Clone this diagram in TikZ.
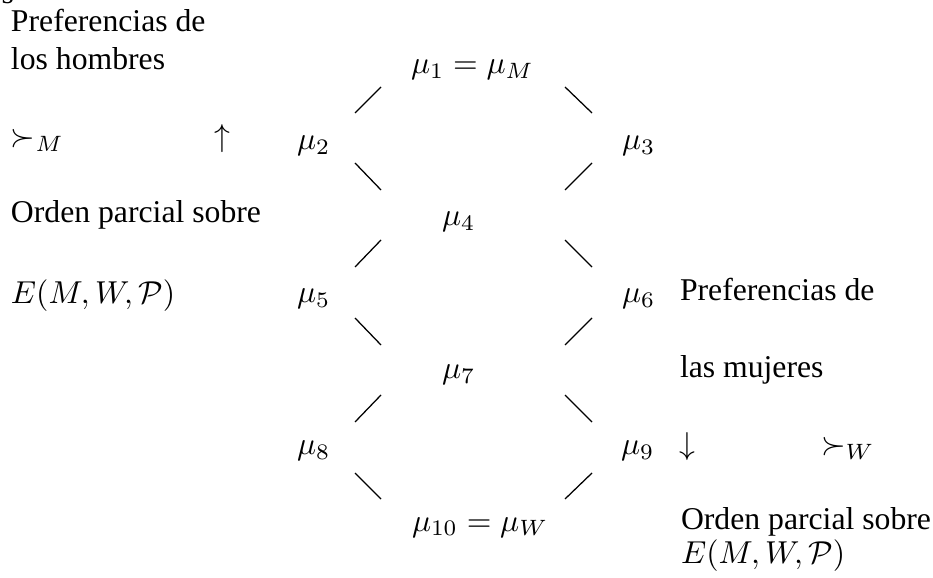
\documentclass[tikz,border=0pt]{standalone}
\usepackage[no-math]{fontspec}
\setmainfont{Liberation Serif}
\begin{document}
\begin{tikzpicture}[x=0.31546pt,y=-0.31546pt,
  txt/.style={inner sep=0pt, outer sep=0pt, anchor=base west},
  seg/.style={line width=0.4pt}]
\useasboundingbox (0,0) rectangle (933,578);
% clipped fragment at the top edge
\node[txt,anchor=base east] (frag) at (14,4) {es};
% left labels
\node[txt] (pm1) at (11,32) {Preferencias de};
\node[txt] (pm2) at (11,70) {los hombres};
\node[txt] (sm) at (11,147) {$\succ_M$};
\node[inner sep=0pt,anchor=base] (up) at (222,147) {$\uparrow$};
\node[txt] (om1) at (11,223) {Orden parcial sobre};
\node[txt] (om2) at (11,304) {$E(M,W,\mathcal{P})$};
% lattice
\node[txt] (m1) at (411,74) {$\mu_1=\mu_M$};
\node[txt] (m2) at (297,150) {$\mu_2$};
\node[txt] (m3) at (622,150) {$\mu_3$};
\node[txt] (m4) at (442,226) {$\mu_4$};
\node[txt] (m5) at (297,303) {$\mu_5$};
\node[txt] (m6) at (622,303) {$\mu_6$};
\node[txt] (m7) at (442,379) {$\mu_7$};
\node[txt] (m8) at (297,455) {$\mu_8$};
\node[txt] (m9) at (621,455) {$\mu_9$};
\node[txt] (m10) at (412,531) {$\mu_{10}=\mu_W$};
% right labels
\node[txt] (pw1) at (680,301) {Preferencias de};
\node[txt] (pw2) at (680,378) {las mujeres};
\node[txt] (down) at (679,455) {$\downarrow$};
\node[txt] (sw) at (821,455) {$\succ_W$};
\node[txt] (ow1) at (681,530) {Orden parcial sobre};
\node[txt] (ow2) at (681,563) {$E(M,W,\mathcal{P})$};
% segment end points
\foreach \i/\t/\b in {1/87/113,2/163/190,3/240/267,4/318/345,5/395/422,6/473/499}{
  \coordinate (ltl\i) at (355,\t); \coordinate (ltr\i) at (381,\t);
  \coordinate (lbl\i) at (355,\b); \coordinate (lbr\i) at (381,\b);
  \coordinate (rtl\i) at (565,\t); \coordinate (rtr\i) at (592,\t);
  \coordinate (rbl\i) at (565,\b); \coordinate (rbr\i) at (592,\b);
}
\foreach \i in {1,3,5}{
  \draw[seg] (lbl\i) -- (ltr\i);
  \draw[seg] (rtl\i) -- (rbr\i);
}
\foreach \i in {2,4,6}{
  \draw[seg] (ltl\i) -- (lbr\i);
  \draw[seg] (rbl\i) -- (rtr\i);
}
\end{tikzpicture}
\end{document}
